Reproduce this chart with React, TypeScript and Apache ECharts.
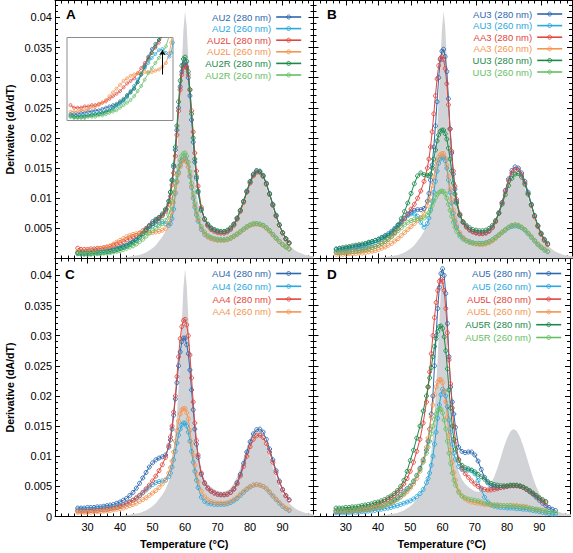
import React, { useEffect, useRef } from 'react';
import * as echarts from 'echarts';

// All derivative values below are in units of 1e-4 (dA/dT)
const UNIT = 1e-4;

// Sampling temperatures (°C)
const TEMPS_ABC = [27,28,29,30,31,32,33,34,35,36,37,38,39,40,41,42,43,44,45,46,47,48,49,50,51,52,53,54,55,
  55.5,56,56.5,57,57.5,58,58.5,59,59.5,60,60.5,61,61.5,62,62.5,63,63.5,64,
  65,66,67,68,69,70,71,72,73,74,75,76,77,78,79,80,81,82,83,84,85,86,87,88,89,90,91,92];
const TEMPS_D = [...TEMPS_ABC, 93, 94, 95];

// Grey reference profile
const GRAY_T = [27,30,33,36,38,40,42,44,46,48,50,51,52,53,54,55,55.5,56,56.5,57,57.5,58,58.5,59,59.5,60,60.5,61,61.5,62,62.5,63,63.5,64,65,
  66,67,68,69,70,71,72,73,74,75,76,77,78,79,80,81,82,83,84,85,86,87,88,89,90,91,92,93,94,95,96,97,98,99,100];
const GRAY_V = [0,0,0,0,1,1,2,4,6,10,17,22,29,36,45,58,70,85,105,135,170,215,265,320,380,410,385,330,270,215,170,135,110,92,75,
  62,54,49,45,42,41,41,43,47,55,66,80,97,115,130,141,145,142,132,117,100,82,65,50,38,29,22,17,13,10,8,6,5,4,3];

// Panel A
const AU2_280 = [10,10,10,11,11,12,12,13,13,14,15,16,17,18,20,22,25,28,30,35,41,48,55,61,65,68,72,80,95,
  110,130,152,180,213,250,285,310,322,325,318,300,270,230,193,160,133,110,
  80,65,56,50,47,45,44,44,46,50,57,67,80,95,112,128,140,146,145,138,125,108,90,72,56,43,33,26];
const AU2_260 = [8,8,8,9,9,9,10,10,11,11,12,13,14,16,18,20,23,27,32,37,42,46,50,54,57,60,61,58,55,
  58,66,82,108,128,143,155,162,165,166,161,152,136,118,100,85,72,62,
  48,40,36,33,32,31,31,31,32,34,37,40,44,48,52,55,57,58,57,55,51,46,40,34,28,23,19,16];
const AU2L_280 = [17,15,15,15,16,16,17,17,18,19,20,22,24,26,28,31,34,36,38,42,46,50,54,58,62,66,71,78,90,
  103,122,142,170,205,245,280,305,317,320,316,305,280,245,210,175,145,120,
  85,65,54,48,45,43,42,42,44,48,55,65,78,93,110,125,137,143,143,136,123,106,88,70,55,42,32,25];
const AU2L_260 = [12,12,12,13,13,14,15,16,17,19,21,24,27,30,33,36,38,40,41,42,42,43,43,43,44,45,47,50,58,
  66,78,93,110,126,140,152,160,163,164,160,152,138,120,103,88,75,64,
  50,41,36,33,31,30,30,30,31,33,36,40,44,48,52,55,57,57,56,54,50,45,39,33,28,23,19,16];
const AU2R_280 = [9,8,8,8,8,9,9,10,10,11,12,13,15,17,19,21,24,27,30,35,41,47,53,58,63,68,74,82,95,
  110,130,155,185,220,260,295,320,331,334,327,310,280,240,200,165,136,112,
  82,66,57,51,48,46,45,45,47,51,57,67,80,95,111,127,139,145,144,137,124,107,89,71,56,43,33,26];
const AU2R_260 = [8,7,7,7,7,8,8,8,9,9,10,11,12,13,15,17,19,21,24,28,32,37,42,46,50,54,58,63,72,
  82,95,110,125,139,152,163,170,174,175,170,160,144,125,108,92,79,68,
  53,44,38,35,33,32,31,31,32,34,37,41,45,49,53,56,58,58,57,55,51,46,40,34,28,23,19,16];

// Panel B
const AU3_280 = [15,16,16,17,18,19,20,21,22,24,26,28,30,32,35,38,41,45,50,55,61,67,73,77,80,81,81,83,95,
  108,130,155,185,220,260,300,330,344,347,335,310,265,215,175,140,115,95,
  72,60,53,48,45,43,42,42,43,46,52,62,76,93,113,132,146,152,150,142,128,110,90,71,54,41,31,24];
const AU3_260 = [12,12,12,13,14,15,16,17,18,20,22,24,26,29,32,35,39,43,48,54,60,66,71,74,74,70,60,52,58,
  67,80,95,110,128,145,158,165,168,168,162,150,130,110,92,75,62,52,
  40,34,30,28,26,25,25,25,26,28,31,35,39,43,47,51,53,54,53,51,47,41,35,29,23,18,14,11];
const AA3_280 = [10,10,10,11,11,12,12,13,14,15,16,18,20,22,25,28,32,37,43,50,58,66,74,82,90,100,112,128,150,
  165,185,210,240,270,298,320,332,335,330,315,290,255,215,178,145,120,98,
  74,60,52,47,44,42,41,41,42,45,51,61,75,92,111,129,142,148,147,139,125,107,88,69,53,40,30,23];
const AA3_260 = [7,7,7,7,8,8,8,9,9,10,11,12,13,15,17,19,22,25,29,33,38,43,48,53,58,63,68,75,88,
  97,108,121,135,148,160,168,172,174,174,167,155,136,115,97,80,67,56,
  43,35,30,27,25,24,23,23,24,26,29,33,38,43,48,52,55,56,55,52,48,42,36,30,24,19,15,12];
const UU3_280 = [16,17,18,19,20,21,22,23,24,25,27,28,30,32,34,36,38,42,48,56,66,78,92,108,124,137,142,139,138,
  137,140,150,165,180,195,205,211,213,213,207,198,183,165,145,125,107,92,
  72,61,55,51,48,47,46,46,47,50,55,63,75,90,106,121,133,140,141,135,123,107,89,71,55,42,32,25];
const UU3_260 = [10,10,10,11,11,12,12,13,14,15,16,18,20,22,25,28,32,36,41,46,51,56,60,63,65,66,66,67,72,
  76,82,88,95,101,106,109,111,112,111,107,100,90,80,70,60,52,45,
  37,32,29,27,26,25,25,25,26,28,31,35,39,44,48,52,55,56,55,52,48,42,36,30,24,19,15,12];

// Panel C
const AU4_280 = [14,14,14,15,15,15,16,16,17,18,19,20,22,24,27,30,35,40,47,55,64,73,82,89,94,97,99,102,115,
  127,145,168,195,222,250,273,290,296,296,285,270,243,210,177,145,120,98,
  70,55,47,42,39,37,36,36,37,40,46,56,70,88,107,124,137,144,145,140,128,112,94,76,59,45,35,28];
const AU4_260 = [11,11,11,12,12,12,13,13,14,14,15,16,17,18,20,22,24,27,30,34,39,44,49,53,56,58,59,60,66,
  72,82,94,108,122,135,145,152,155,155,150,140,125,108,90,75,60,48,
  32,25,22,21,20,20,20,20,21,23,26,30,35,40,45,49,52,53,52,50,46,40,34,28,22,17,13,10];
const AA4_280 = [9,9,9,9,10,10,10,11,11,12,13,14,15,17,19,21,24,27,31,35,40,46,52,59,67,76,86,98,118,
  132,150,173,200,232,265,295,315,325,327,318,300,268,230,190,155,126,102,
  72,56,47,42,39,37,36,36,37,40,45,54,67,83,100,116,128,134,135,131,121,107,90,73,57,44,34,27];
const AA4_260 = [7,7,7,7,7,8,8,8,9,9,10,11,12,13,14,16,18,20,22,25,28,31,35,39,43,48,54,61,72,
  81,92,107,125,142,158,170,177,179,179,172,162,143,122,102,85,70,58,
  42,33,28,25,23,22,22,22,23,25,28,32,37,42,46,50,52,53,52,50,46,41,35,29,23,18,14,11];

// Panel D
const AU5_280 = [8,8,8,9,9,9,10,10,11,11,12,13,14,15,17,19,21,24,27,31,36,41,46,50,58,68,80,94,110,
  125,145,170,200,250,300,345,380,403,411,400,370,320,265,215,190,170,148,
  115,108,106,107,107,102,92,78,65,56,51,49,48,48,49,50,51,51,51,50,48,45,41,37,32,27,22,18,15,12,10];
const AU5_260 = [6,6,6,6,6,7,7,7,8,8,9,9,10,11,12,13,14,15,17,18,20,22,24,26,29,33,38,45,56,
  63,72,85,100,120,140,163,185,202,211,208,200,182,160,140,120,105,95,
  83,78,77,77,76,71,60,45,32,24,19,17,16,15,15,14,14,14,13,13,12,12,11,10,9,8,7,6,5,4,4];
const AU5L_280 = [10,10,10,10,11,11,12,12,13,14,15,16,18,20,22,25,28,31,35,40,46,54,63,75,90,108,128,155,190,
  215,240,270,300,330,355,375,390,393,390,375,345,305,260,220,180,150,125,
  95,80,71,65,59,54,50,47,45,44,44,45,46,48,49,50,51,51,51,50,48,45,42,38,34,30,26,23,null,null,null];
const AU5L_260 = [9,9,9,9,9,10,10,10,11,11,12,13,14,15,16,18,20,22,25,28,32,36,41,47,54,63,75,92,115,
  130,145,165,185,202,215,223,227,227,222,208,190,165,135,110,90,73,60,
  42,34,29,26,24,23,22,21,20,20,19,19,19,18,18,18,18,18,18,17,17,16,14,13,12,11,10,9,null,null,null];
const AU5R_280 = [14,14,14,15,15,16,16,17,18,19,20,21,23,24,26,28,31,34,38,43,50,60,75,93,110,130,150,175,200,
  215,230,247,265,282,295,307,315,316,312,298,275,245,210,180,150,128,112,
  93,85,81,79,77,74,70,66,62,58,55,53,52,51,51,51,52,52,52,51,49,46,43,39,35,31,28,25,null,null,null];
const AU5R_260 = [10,10,10,10,10,11,11,11,12,12,13,14,15,16,17,19,21,23,26,29,33,38,44,51,59,68,78,90,105,
  115,125,137,150,161,170,176,179,178,172,160,145,125,105,88,72,60,52,
  40,34,31,29,28,27,26,24,22,21,20,19,19,18,18,18,18,17,17,16,16,15,14,13,12,11,10,9,8,7,6];

const X_TICK_LABELS = [30, 40, 50, 60, 70, 80, 90];
const PANEL_LETTERS = ['A', 'B', 'C', 'D'];
// Inset of panel A: temperature / value window, and arrow (1e-4 units)
const INSET_T_RANGE = [26, 56];
const INSET_V_RANGE = [5, 70];
const INSET_ARROW = { t: 53, from: 41, to: 60 };

const C_BLUE = '#2d68ae';
const C_CYAN = '#2aa7de';
const C_RED = '#e2463e';
const C_ORANGE = '#f49550';
const C_DGREEN = '#1a8a4b';
const C_LGREEN = '#68be65';
const C_GRAY = '#d2d3d6';
const FONT = '"Liberation Sans", Arial, Helvetica, sans-serif';

type S = { name: string; values: (number | null)[]; color: string };

const PANELS: { temps: number[]; series: S[] }[] = [
  { temps: TEMPS_ABC, series: [
    { name: 'AU2 (280 nm)', values: AU2_280, color: C_BLUE },
    { name: 'AU2 (260 nm)', values: AU2_260, color: C_CYAN },
    { name: 'AU2L (280 nm)', values: AU2L_280, color: C_RED },
    { name: 'AU2L (260 nm)', values: AU2L_260, color: C_ORANGE },
    { name: 'AU2R (280 nm)', values: AU2R_280, color: C_DGREEN },
    { name: 'AU2R (260 nm)', values: AU2R_260, color: C_LGREEN },
  ] },
  { temps: TEMPS_ABC, series: [
    { name: 'AU3 (280 nm)', values: AU3_280, color: C_BLUE },
    { name: 'AU3 (260 nm)', values: AU3_260, color: C_CYAN },
    { name: 'AA3 (280 nm)', values: AA3_280, color: C_RED },
    { name: 'AA3 (260 nm)', values: AA3_260, color: C_ORANGE },
    { name: 'UU3 (280 nm)', values: UU3_280, color: C_DGREEN },
    { name: 'UU3 (260 nm)', values: UU3_260, color: C_LGREEN },
  ] },
  { temps: TEMPS_ABC, series: [
    { name: 'AU4 (280 nm)', values: AU4_280, color: C_BLUE },
    { name: 'AU4 (260 nm)', values: AU4_260, color: C_CYAN },
    { name: 'AA4 (280 nm)', values: AA4_280, color: C_RED },
    { name: 'AA4 (260 nm)', values: AA4_260, color: C_ORANGE },
  ] },
  { temps: TEMPS_D, series: [
    { name: 'AU5 (280 nm)', values: AU5_280, color: C_BLUE },
    { name: 'AU5 (260 nm)', values: AU5_260, color: C_CYAN },
    { name: 'AU5L (280 nm)', values: AU5L_280, color: C_RED },
    { name: 'AU5L (260 nm)', values: AU5L_260, color: C_ORANGE },
    { name: 'AU5R (280 nm)', values: AU5R_280, color: C_DGREEN },
    { name: 'AU5R (260 nm)', values: AU5R_260, color: C_LGREEN },
  ] },
];

const pairs = (temps: number[], vals: (number | null)[]) =>
  vals.map((v, i) => [temps[i], v]).filter((p) => p[1] != null).map((p) => [p[0] as number, (p[1] as number) * UNIT]);

const X_MIN = 20, X_MAX = 99.5, Y_MIN = 0, Y_MAX = 0.0428;
const GRIDS = [
  { left: 55, top: 0.5, width: 258.5, height: 258 },
  { left: 313.5, top: 0.5, width: 258.5, height: 258 },
  { left: 55, top: 258.5, width: 258.5, height: 258 },
  { left: 313.5, top: 258.5, width: 258.5, height: 258 },
];
const LEGEND_POS = [
  { right: 271, top: 11.5, itemGap: 0.6 },
  { right: 10, top: 8.5, itemGap: 0.6 },
  { right: 271, top: 268, itemGap: 1.8 },
  { right: 11, top: 268, itemGap: 1.8 },
];
const LETTER_POS = [
  { left: 66, top: 7.5 },
  { left: 327, top: 7.5 },
  { left: 65, top: 267.5 },
  { left: 327, top: 267.5 },
];

function buildOption() {
  const xAxis: any[] = [];
  const yAxis: any[] = [];
  const series: any[] = [];
  const legend: any[] = [];
  const black = { color: '#000', width: 1 };

  PANELS.forEach((panel, p) => {
    const bottomRow = p >= 2;
    const leftCol = p % 2 === 0;
    const xBase = {
      gridIndex: p, type: 'value', min: X_MIN, max: X_MAX,
      splitLine: { show: false },
    };
    xAxis.push({
      ...xBase, position: 'bottom', interval: 10,
      axisLine: { onZero: false, lineStyle: black },
      axisTick: { inside: true, length: 5, lineStyle: black },
      axisLabel: {
        show: bottomRow, margin: 5, fontSize: 11, color: '#000', fontFamily: FONT,
        formatter: (v: number) => (X_TICK_LABELS.includes(v) ? String(v) : ''),
      },
      name: bottomRow ? 'Temperature (°C)' : '', nameLocation: 'middle', nameGap: 22,
      nameTextStyle: { fontSize: 11, fontWeight: 'bold', color: '#000', fontFamily: FONT },
    });
    xAxis.push({
      ...xBase, position: 'top', interval: 10,
      axisLine: { onZero: false, lineStyle: black },
      axisTick: { inside: true, length: 5, lineStyle: black },
      axisLabel: { show: false },
    });
    ['bottom', 'top'].forEach((pos) => xAxis.push({
      ...xBase, position: pos, interval: 2,
      axisLine: { show: false, onZero: false },
      axisTick: { inside: true, length: 3, lineStyle: black },
      axisLabel: { show: false },
    }));

    const yBase = {
      gridIndex: p, type: 'value', min: Y_MIN, max: Y_MAX,
      splitLine: { show: false },
    };
    yAxis.push({
      ...yBase, position: 'left', interval: 0.005,
      axisLine: { onZero: false, lineStyle: black },
      axisTick: { inside: true, length: 5, lineStyle: black },
      axisLabel: {
        show: leftCol, margin: 3, fontSize: 11, color: '#000', fontFamily: FONT,
        formatter: (v: number) => {
          if (v > 0.0415) return '';
          if (p === 0 && v < 0.001) return '';
          return String(parseFloat(v.toFixed(3)));
        },
      },
      name: leftCol ? 'Derivative (dA/dT)' : '', nameLocation: 'middle', nameGap: 40,
      nameTextStyle: { fontSize: 10.5, fontWeight: 'bold', color: '#000', fontFamily: FONT },
    });
    yAxis.push({
      ...yBase, position: 'right', interval: 0.005,
      axisLine: { onZero: false, lineStyle: black },
      axisTick: { inside: true, length: 5, lineStyle: black },
      axisLabel: { show: false },
    });
    ['left', 'right'].forEach((pos) => yAxis.push({
      ...yBase, position: pos, interval: 0.001,
      axisLine: { show: false, onZero: false },
      axisTick: { inside: true, length: 3, lineStyle: black },
      axisLabel: { show: false },
    }));

    series.push({
      name: 'reference ' + PANEL_LETTERS[p], type: 'line', xAxisIndex: 4 * p, yAxisIndex: 4 * p,
      data: pairs(GRAY_T, GRAY_V), symbol: 'none', silent: true, z: 1,
      lineStyle: { width: 0, color: C_GRAY }, itemStyle: { color: C_GRAY },
      areaStyle: { color: C_GRAY, opacity: 1 },
    });
    panel.series.forEach((s) => {
      series.push({
        name: s.name, type: 'line', xAxisIndex: 4 * p, yAxisIndex: 4 * p,
        data: pairs(panel.temps, s.values),
        symbol: 'circle', symbolSize: 4,
        itemStyle: { color: 'rgba(255,255,255,0)', borderColor: s.color, borderWidth: 0.9 },
        lineStyle: { color: s.color, width: 1 },
      });
    });
    legend.push({
      ...LEGEND_POS[p], orient: 'vertical', align: 'right', padding: 0,
      itemWidth: 25, itemHeight: 5, selectedMode: false,
      lineStyle: { width: 1.6 },
      itemStyle: { borderWidth: 0.9, color: 'rgba(255,255,255,0)' },
      textStyle: { fontSize: 9.5, lineHeight: 11, fontFamily: FONT },
      data: panel.series.map((s) => ({ name: s.name, textStyle: { color: s.color } })),
    });
  });

  // Inset of panel A (low-temperature region)
  xAxis.push({ gridIndex: 4, type: 'value', min: INSET_T_RANGE[0], max: INSET_T_RANGE[1], show: false });
  yAxis.push({ gridIndex: 4, type: 'value', min: INSET_V_RANGE[0] * UNIT, max: INSET_V_RANGE[1] * UNIT, show: false });
  PANELS[0].series.forEach((s, i) => {
    series.push({
      name: s.name + ' inset', type: 'line', xAxisIndex: 16, yAxisIndex: 16,
      data: pairs(PANELS[0].temps, s.values).filter((d) => d[0] <= INSET_T_RANGE[1]),
      symbol: 'circle', symbolSize: 3, clip: true,
      itemStyle: { color: 'rgba(255,255,255,0)', borderColor: s.color, borderWidth: 0.8 },
      lineStyle: { color: s.color, width: 0.8 },
      markLine: i === 1 ? {
        silent: true, symbol: ['none', 'arrow'], symbolSize: 5,
        lineStyle: { color: '#000', width: 1, type: 'solid' }, label: { show: false },
        data: [[
          { coord: [INSET_ARROW.t, INSET_ARROW.from * UNIT] },
          { coord: [INSET_ARROW.t, INSET_ARROW.to * UNIT] },
        ]],
      } : undefined,
    });
  });

  return {
    animation: false,
    backgroundColor: '#fff',
    textStyle: { fontFamily: FONT },
    grid: [
      ...GRIDS.map((g) => ({ ...g, containLabel: false })),
      { left: 67, top: 37.5, width: 106, height: 83, show: true, borderColor: '#8c8c8c', borderWidth: 1, backgroundColor: '#fff' },
    ],
    xAxis, yAxis, series, legend,
    graphic: PANEL_LETTERS.map((L, i) => ({
      type: 'text', left: LETTER_POS[i].left, top: LETTER_POS[i].top,
      style: { text: L, font: 'bold 13.5px ' + FONT, fill: '#000' },
    })),
  };
}

export default function App() {
  const ref = useRef<HTMLDivElement>(null);
  useEffect(() => {
    document.body.style.margin = '0';
    const chart = echarts.init(ref.current!, undefined, { renderer: 'svg' });
    chart.setOption(buildOption() as any);
    return () => chart.dispose();
  }, []);
  return <div ref={ref} style={{ position: 'absolute', left: 0, top: 0, width: 573, height: 553 }} />;
}
